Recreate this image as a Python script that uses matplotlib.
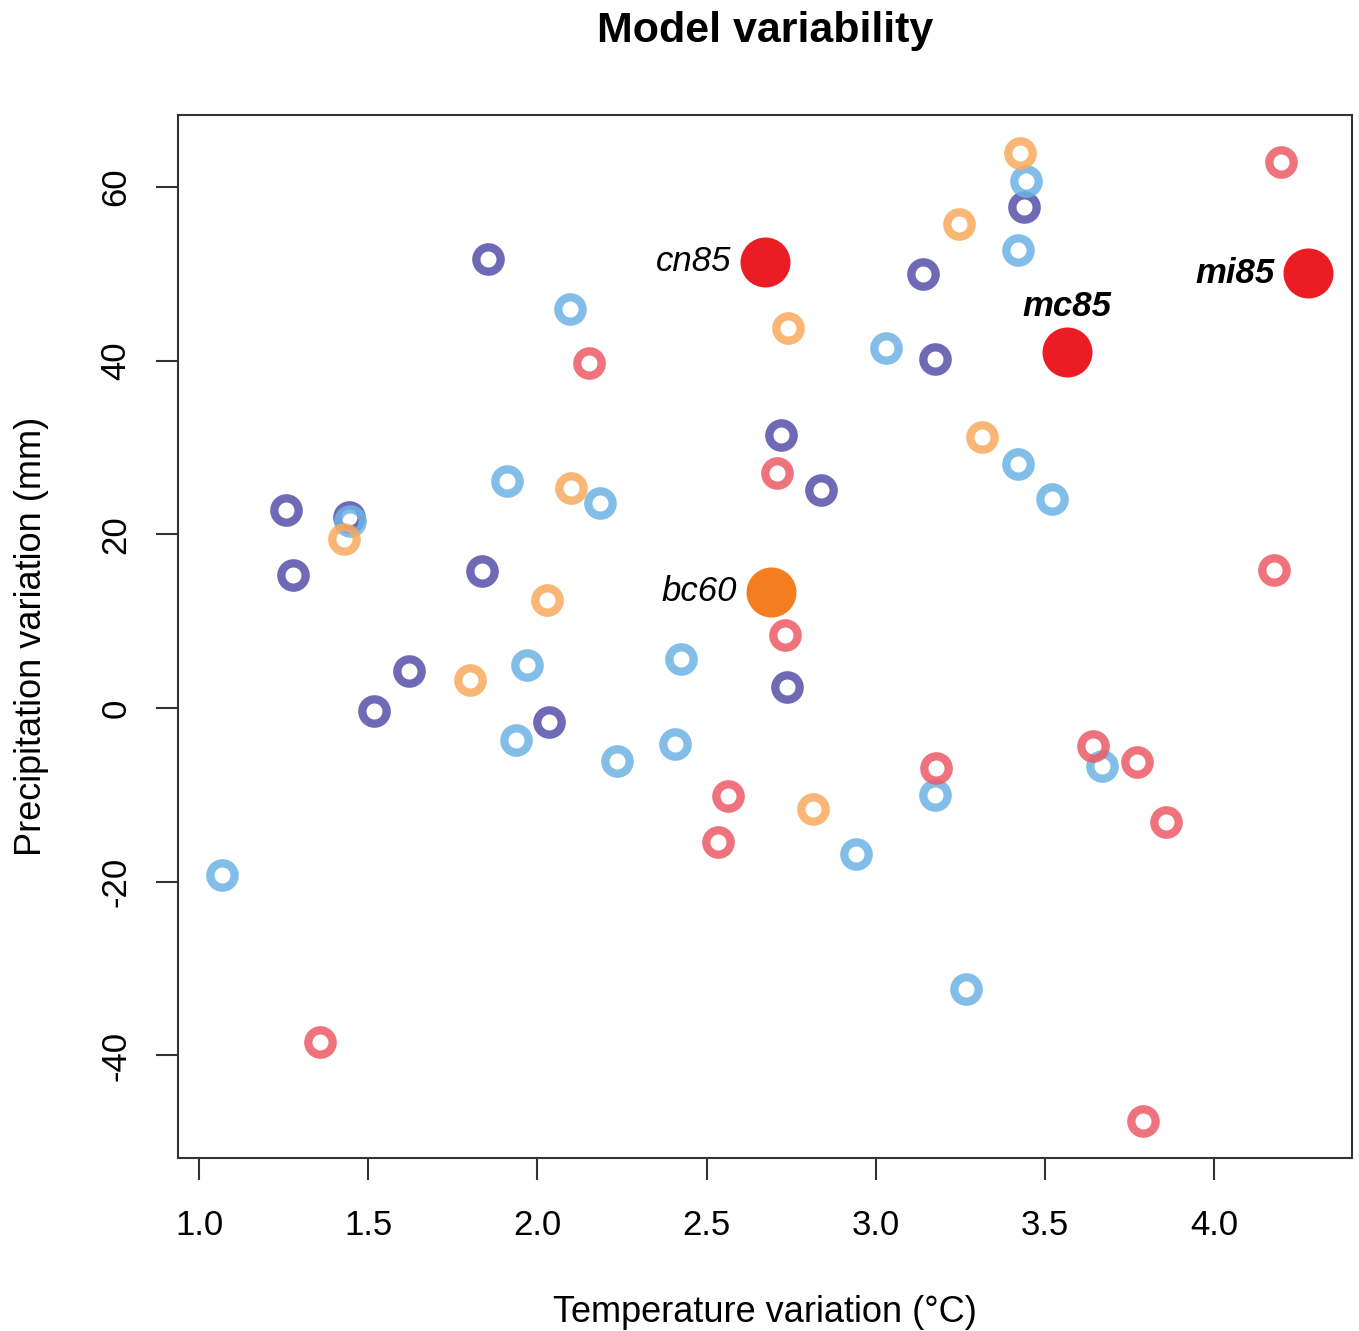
import numpy as np
import matplotlib.pyplot as plt

plt.rcParams['font.family'] = ['Liberation Sans', 'DejaVu Sans']

# open-ring models, grouped by colour
purple_x = [1.854, 1.257, 1.278, 1.443, 1.837, 1.621, 1.517, 2.035, 2.720, 2.839, 2.738, 3.140, 3.176, 3.439]
purple_y = [51.7, 22.8, 15.3, 22.0, 15.8, 4.3, -0.3, -1.6, 31.5, 25.1, 2.4, 50.0, 40.2, 57.7]

lblue_x = [1.068, 1.446, 2.097, 1.910, 2.185, 1.970, 1.937, 2.236, 2.425, 2.407, 3.031, 2.942,
           3.176, 3.267, 3.445, 3.421, 3.421, 3.521, 3.669]
lblue_y = [-19.2, 21.5, 46.0, 26.2, 23.6, 5.0, -3.7, -6.1, 5.6, -4.1, 41.5, -16.8,
           -10.0, -32.3, 60.7, 52.8, 28.1, 24.1, -6.7]

orange_x = [1.429, 1.801, 2.029, 2.100, 2.741, 2.815, 3.247, 3.315, 3.427]
orange_y = [19.5, 3.2, 12.4, 25.3, 43.8, -11.6, 55.8, 31.2, 63.9]

red_x = [1.358, 2.153, 2.709, 2.732, 2.564, 2.534, 3.179, 3.643, 3.773, 3.858, 3.790, 4.198, 4.178]
red_y = [-38.5, 39.7, 27.1, 8.4, -10.1, -15.4, -6.9, -4.4, -6.2, -13.1, -47.5, 62.9, 15.9]

# highlighted models
hl_names = ['cn85', 'mc85', 'mi85', 'bc60']
hl_x = [2.673, 3.566, 4.278, 2.691]
hl_y = [51.4, 41.0, 50.1, 13.4]
hl_col = ['#ec1c24', '#ec1c24', '#ec1c24', '#f47d20']

fig = plt.figure(figsize=(13.59, 13.31), dpi=100)
ax = fig.add_axes([0.131, 0.130, 0.864, 0.7836])

ring = dict(ls='none', marker='o', mfc='none', ms=17.5, mew=6.0, alpha=0.85)
ax.plot(purple_x, purple_y, mec='#5550aa', **ring)
ax.plot(lblue_x, lblue_y, mec='#6db3e6', **ring)
ax.plot(orange_x, orange_y, mec='#f8a95c', **ring)
ax.plot(red_x, red_y, mec='#ec5a66', **ring)

for name, x, y, c in zip(hl_names, hl_x, hl_y, hl_col):
    ax.plot(x, y, 'o', color=c, ms=36, mec='none')

ax.text(hl_x[0] - 0.1, hl_y[0], 'cn85', style='italic', fontsize=25, ha='right', va='center')
ax.text(hl_x[1], hl_y[1] + 5.3, 'mc85', style='italic', weight='bold', fontsize=25, ha='center', va='center')
ax.text(hl_x[2] - 0.1, hl_y[2], 'mi85', style='italic', weight='bold', fontsize=25, ha='right', va='center')
ax.text(hl_x[3] - 0.1, hl_y[3], 'bc60', style='italic', fontsize=25, ha='right', va='center')

ax.set_xlim(0.938, 4.408)
ax.set_ylim(-51.8, 68.3)
ax.set_xticks([1.0, 1.5, 2.0, 2.5, 3.0, 3.5, 4.0])
ax.set_xticklabels(['1.0', '1.5', '2.0', '2.5', '3.0', '3.5', '4.0'])
ax.set_yticks([-40, -20, 0, 20, 40, 60])
ax.set_yticklabels(['-40', '-20', '0', '20', '40', '60'], rotation=90, va='center')
ax.tick_params(labelsize=25, length=16, width=1.5, color='#333333')
ax.tick_params(axis='x', pad=21)
ax.tick_params(axis='y', pad=17)
for s in ax.spines.values():
    s.set_linewidth(1.5)
    s.set_color('#333333')

ax.set_xlabel('Temperature variation (°C)', fontsize=26, labelpad=38)
ax.set_ylabel('Precipitation variation (mm)', fontsize=26, labelpad=36)
fig.text(0.563, 0.977, 'Model variability', fontsize=31, weight='bold', ha='center', va='center')

fig.savefig('out.png', dpi=100)
